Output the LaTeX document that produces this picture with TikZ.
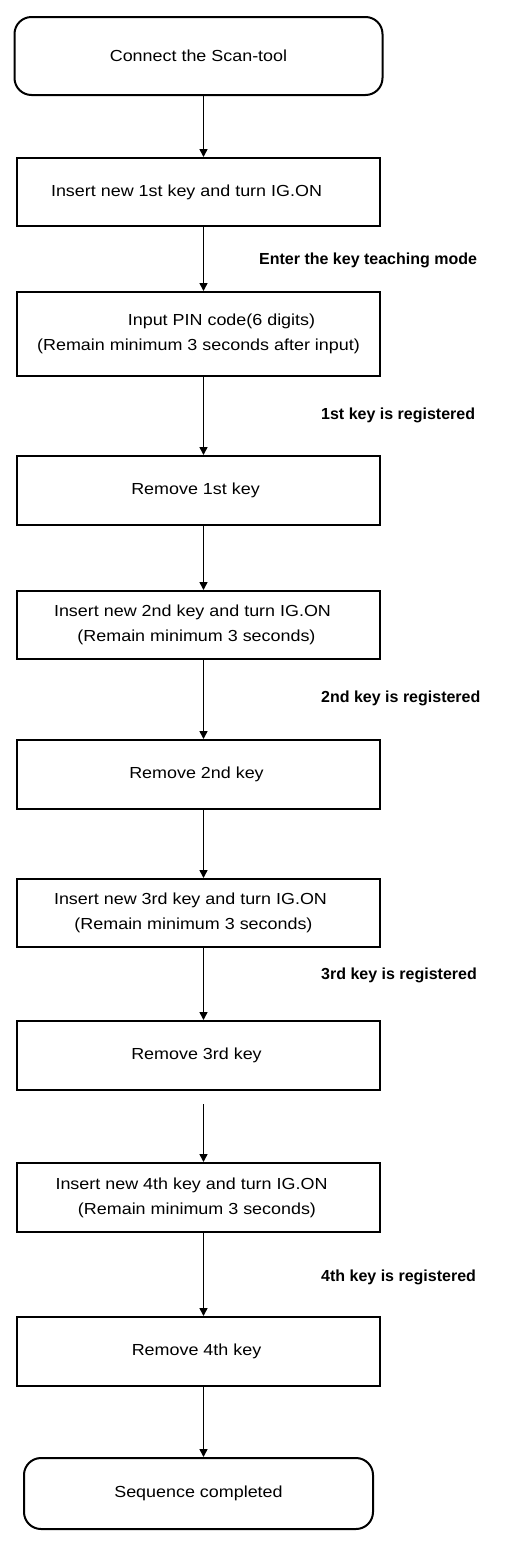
\documentclass[tikz,border=0pt]{standalone}
\usepackage{fontspec}
\setmainfont[FakeStretch=1.12]{Liberation Sans}
\newfontfamily\lblfont{Liberation Sans}
\usetikzlibrary{arrows.meta}
\begin{document}
\begin{tikzpicture}[x=1pt,y=-1pt,
  box/.style={draw, line width=2pt, rectangle, minimum width=363pt, align=center, inner sep=0pt, font=\fontsize{16}{25}\selectfont},
  term/.style={box, rounded corners=17pt},
  lbl/.style={font=\lblfont\fontsize{16}{20}\selectfont\bfseries, anchor=west, inner sep=0pt},
  arr/.style={line width=1.5pt, -{Triangle[width=8pt,length=8pt]}}]
\useasboundingbox (0,0) rectangle (512,1556);
\node[term, minimum width=368pt, minimum height=78pt] (start) at (198.5,56) {Connect the Scan-tool};
\node[box, minimum height=68pt] (b1) at (198.5,192) {\hspace*{-24pt}Insert new 1st key and turn IG.ON};
\node[box, minimum height=84pt] (b2) at (198.5,334) {\hspace*{46pt}Input PIN code(6 digits)\\(Remain minimum 3 seconds after input)};
\node[box, minimum height=69pt] (b3) at (198.5,490.5) {\hspace*{-6pt}Remove 1st key};
\node[box, minimum height=68pt] (b4) at (198.5,625) {\hspace*{-12pt}Insert new 2nd key and turn IG.ON\\\hspace*{-4pt}(Remain minimum 3 seconds)};
\node[box, minimum height=69pt] (b5) at (198.5,774.5) {\hspace*{-4pt}Remove 2nd key};
\node[box, minimum height=68pt] (b6) at (198.5,913) {\hspace*{-16pt}Insert new 3rd key and turn IG.ON\\\hspace*{-10pt}(Remain minimum 3 seconds)};
\node[box, minimum height=69pt] (b7) at (198.5,1055.5) {\hspace*{-4pt}Remove 3rd key};
\node[box, minimum height=69pt] (b8) at (198.5,1197.5) {\hspace*{-14pt}Insert new 4th key and turn IG.ON\\\hspace*{-3pt}(Remain minimum 3 seconds)};
\node[box, minimum height=69pt] (b9) at (198.5,1351.5) {\hspace*{-4pt}Remove 4th key};
\node[term, minimum width=349pt, minimum height=71pt] (end) at (198.5,1493.5) {Sequence completed};
\node[lbl] (l1) at (259,260) {Enter the key teaching mode};
\node[lbl] (l2) at (321,415) {1st key is registered};
\node[lbl] (l3) at (321,698) {2nd key is registered};
\node[lbl] (l4) at (321,975) {3rd key is registered};
\node[lbl] (l5) at (321,1277) {4th key is registered};
\draw[arr] ([xshift=5pt]start.south) -- ([xshift=5pt]b1.north);
\draw[arr] ([xshift=5pt]b1.south) -- ([xshift=5pt]b2.north);
\draw[arr] ([xshift=5pt]b2.south) -- ([xshift=5pt]b3.north);
\draw[arr] ([xshift=5pt]b3.south) -- ([xshift=5pt]b4.north);
\draw[arr] ([xshift=5pt]b4.south) -- ([xshift=5pt]b5.north);
\draw[arr] ([xshift=5pt]b5.south) -- ([xshift=5pt]b6.north);
\draw[arr] ([xshift=5pt]b6.south) -- ([xshift=5pt]b7.north);
\draw[arr] ([xshift=5pt,yshift=-13pt]b7.south) -- ([xshift=5pt]b8.north);
\draw[arr] ([xshift=5pt]b8.south) -- ([xshift=5pt]b9.north);
\draw[arr] ([xshift=5pt]b9.south) -- ([xshift=5pt]end.north);
\end{tikzpicture}
\end{document}
